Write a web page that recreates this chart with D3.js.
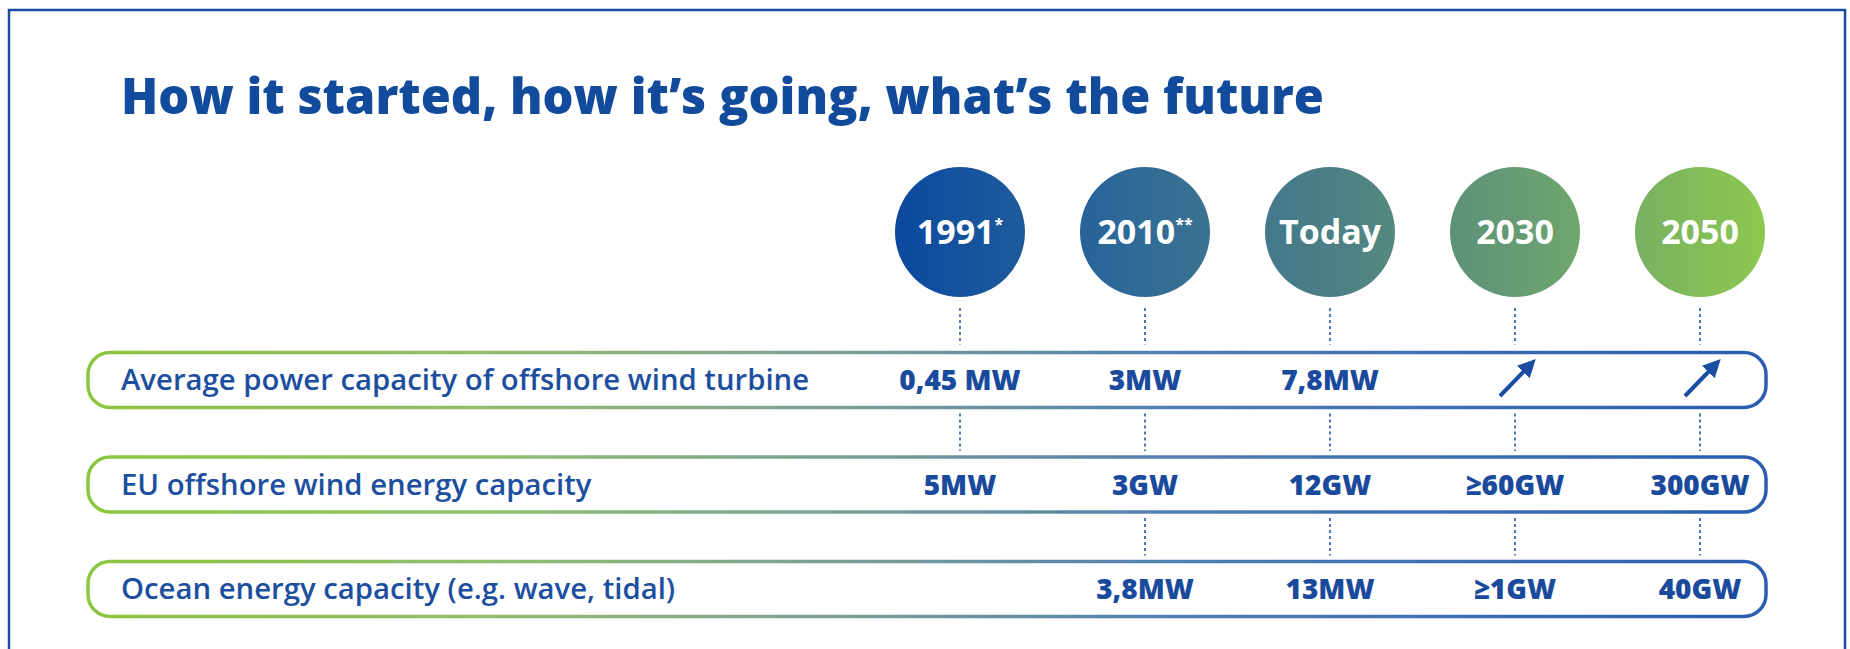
<!DOCTYPE html>
<html>
<head>
<meta charset="utf-8">
<script src="https://cdn.jsdelivr.net/npm/d3@7"></script>
<style>
  body { margin: 0; background: #fff; }
  .title { font-family: "Open Sans", sans-serif; font-weight: 800; fill: #134b9c; }
  .row-label { font-family: "Open Sans", sans-serif; font-weight: 600; fill: #1d4f9f; }
  .value { font-family: "Open Sans", sans-serif; font-weight: 800; fill: #1a4a9c; }
  .period { font-family: "Open Sans", sans-serif; font-weight: 700; fill: #fff; }
</style>
</head>
<body>
<div id="chart"></div>
<script>
// data
const title = "How it started, how it’s going, what’s the future";
const periods = ["1991", "2010", "Today", "2030", "2050"];
const periodNotes = ["*", "**", "", "", ""];
const rowLabels = [
  "Average power capacity of offshore wind turbine",
  "EU offshore wind energy capacity",
  "Ocean energy capacity (e.g. wave, tidal)"
];
const turbineValues = ["0,45 MW", "3MW", "7,8MW", "↗", "↗"];
const euWindValues = ["5MW", "3GW", "12GW", "≥60GW", "300GW"];
const oceanValues = [null, "3,8MW", "13MW", "≥1GW", "40GW"];
const rowValues = [turbineValues, euWindValues, oceanValues];

const width = 1850, height = 649;

const svg = d3.select("#chart").append("svg")
  .attr("width", width)
  .attr("height", height);

const defs = svg.append("defs");

// gradient for the circles (blue -> green)
const circleGrad = defs.append("linearGradient")
  .attr("id", "circleGrad")
  .attr("gradientUnits", "userSpaceOnUse")
  .attr("x1", 890).attr("x2", 1765).attr("y1", 0).attr("y2", 0);
[["0", "#0a489f"], ["0.28", "#306a97"], ["0.52", "#4e8184"], ["0.75", "#6aa070"], ["1", "#8dc84e"]]
  .forEach(s => circleGrad.append("stop").attr("offset", s[0]).attr("stop-color", s[1]));

// gradient for the row outlines (green -> blue)
const pillGrad = defs.append("linearGradient")
  .attr("id", "pillGrad")
  .attr("gradientUnits", "userSpaceOnUse")
  .attr("x1", 88).attr("x2", 1766).attr("y1", 0).attr("y2", 0);
[["0", "#8cc63f"], ["0.25", "#8fbd70"], ["0.45", "#7a9f96"], ["0.65", "#4f7fb2"], ["1", "#2a5cb0"]]
  .forEach(s => pillGrad.append("stop").attr("offset", s[0]).attr("stop-color", s[1]));

defs.append("marker")
  .attr("id", "arrowHead")
  .attr("viewBox", "0 0 10 10")
  .attr("refX", 7).attr("refY", 5)
  .attr("markerWidth", 4.5).attr("markerHeight", 4.5)
  .attr("markerUnits", "strokeWidth")
  .attr("orient", "auto")
  .append("path")
  .attr("d", "M0,0 L10,5 L0,10 z")
  .attr("fill", "#1a4ea3");

// frame
svg.append("rect")
  .attr("x", 9).attr("y", 10)
  .attr("width", 1836).attr("height", 700)
  .attr("fill", "none")
  .attr("stroke", "#1b4c9f")
  .attr("stroke-width", 2.5);

// title
svg.append("text")
  .attr("class", "title")
  .attr("x", 121).attr("y", 114)
  .attr("font-size", 50)
  .attr("textLength", 1203)
  .attr("lengthAdjust", "spacingAndGlyphs")
  .text(title);

// scales
const x = d3.scalePoint().domain(periods).range([960, 1700]);
const y = d3.scalePoint().domain(rowLabels).range([380, 589]);

const circleY = 232, r = 65, pillH = 55;
const pillLeft = 88, pillRight = 1766;

// rows
const rows = svg.append("g").selectAll("g")
  .data(rowLabels)
  .enter().append("g");

rows.append("rect")
  .attr("x", pillLeft)
  .attr("y", d => y(d) - pillH / 2)
  .attr("width", pillRight - pillLeft)
  .attr("height", pillH)
  .attr("rx", 22)
  .attr("fill", "#fff")
  .attr("stroke", "url(#pillGrad)")
  .attr("stroke-width", 3.5);

rows.append("text")
  .attr("class", "row-label")
  .attr("x", 121)
  .attr("y", d => y(d))
  .attr("dy", "0.35em")
  .attr("font-size", 29.3)
  .text(d => d);

// dashed connectors
const connectors = [];
periods.forEach((p, j) => {
  connectors.push({ x: x(p), y1: circleY + r + 11, y2: y(rowLabels[0]) - pillH / 2 - 8 });
  for (let i = 1; i < rowLabels.length; i++) {
    if (rowValues[i][j] == null) continue;
    connectors.push({ x: x(p), y1: y(rowLabels[i - 1]) + pillH / 2 + 6, y2: y(rowLabels[i]) - pillH / 2 - 6 });
  }
});

svg.append("g").selectAll("line")
  .data(connectors)
  .enter().append("line")
  .attr("x1", d => d.x).attr("x2", d => d.x)
  .attr("y1", d => d.y1).attr("y2", d => d.y2)
  .attr("stroke", "#3f68b0")
  .attr("stroke-width", 1.8)
  .attr("stroke-dasharray", "3,3");

// period circles
const circles = svg.append("g").selectAll("g")
  .data(periods)
  .enter().append("g")
  .attr("transform", d => `translate(${x(d)},${circleY})`);

circles.append("circle")
  .attr("r", r)
  .attr("fill", "url(#circleGrad)")
  .attr("transform", d => `translate(${-x(d)},0)`)
  .attr("cx", d => x(d));

const periodText = circles.append("text")
  .attr("class", "period")
  .attr("text-anchor", "middle")
  .attr("dy", "0.35em")
  .attr("font-size", 34);

periodText.append("tspan").text(d => d);
periodText.append("tspan")
  .attr("font-size", 16)
  .attr("dy", "-0.9em")
  .text((d, i) => periodNotes[i]);

// values in each row
const cells = [];
rowValues.forEach((vals, i) => {
  vals.forEach((v, j) => {
    if (v != null) cells.push({ row: rowLabels[i], period: periods[j], value: v });
  });
});

const valueG = svg.append("g");

valueG.selectAll("text")
  .data(cells.filter(d => d.value !== "↗"))
  .enter().append("text")
  .attr("class", "value")
  .attr("x", d => x(d.period))
  .attr("y", d => y(d.row))
  .attr("dy", "0.37em")
  .attr("text-anchor", "middle")
  .attr("font-size", 28)
  .text(d => d.value);

// rising arrows
valueG.selectAll("line")
  .data(cells.filter(d => d.value === "↗"))
  .enter().append("line")
  .attr("x1", d => x(d.period) - 15)
  .attr("y1", d => y(d.row) + 16)
  .attr("x2", d => x(d.period) + 17)
  .attr("y2", d => y(d.row) - 17)
  .attr("stroke", "#1a4ea3")
  .attr("stroke-width", 4)
  .attr("marker-end", "url(#arrowHead)");
</script>
</body>
</html>
